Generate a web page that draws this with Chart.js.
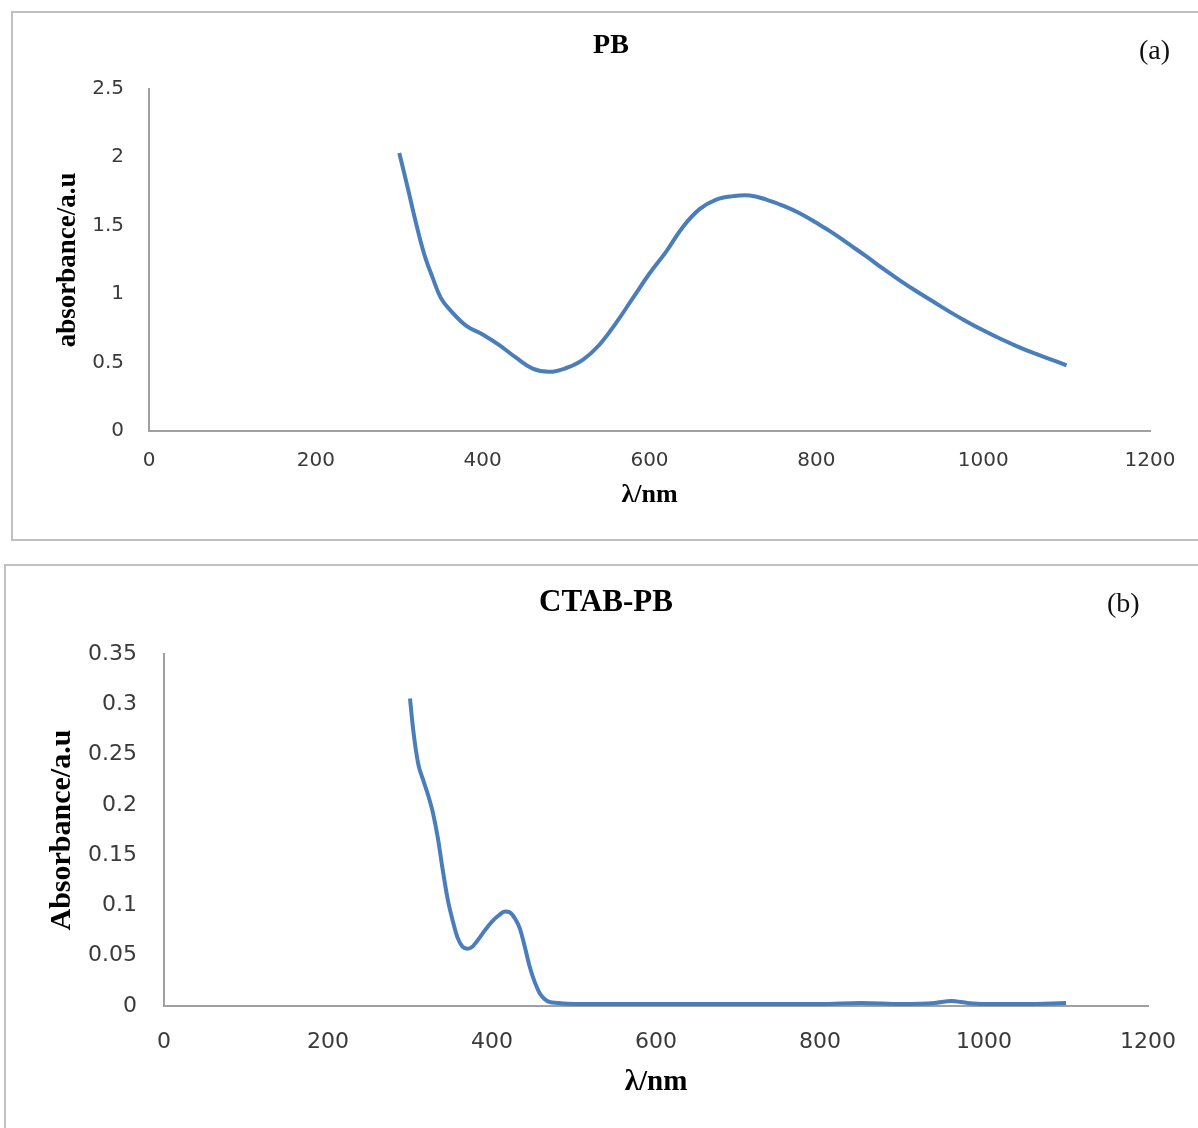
<!DOCTYPE html>
<html>
<head>
<meta charset="utf-8">
<script src="https://cdn.jsdelivr.net/npm/chart.js@4.4.0/dist/chart.umd.min.js"></script>
<style>
    html, body { margin: 0; padding: 0; background: #fff; overflow: hidden; }
    body { width: 1198px; height: 1128px; position: relative; }
    .panel { position: absolute; border: 2px solid #c0c0c0; box-sizing: border-box; }
    #panelA { left: 11px; top: 11px; width: 1230px; height: 530px; }
    #panelB { left: 4px; top: 564px; width: 1230px; height: 600px; }
    canvas { position: absolute; }
    #pbChart { left: 24px; top: 12px; }
    #ctabChart { left: 14px; top: 565px; }
    .tag { position: absolute; font-family: 'Liberation Serif', serif; font-size: 28px; line-height: 30px; color: #111; }
</style>
</head>
<body>
<div class="panel" id="panelA"></div>
<div class="panel" id="panelB"></div>
<canvas id="pbChart" width="1174" height="528"></canvas>
<canvas id="ctabChart" width="1184" height="563"></canvas>
<div class="tag" style="left:1139px; top:35px;">(a)</div>
<div class="tag" style="left:1107px; top:588px;">(b)</div>

<script>
// (a) PB spectrum
var pbWavelength = [300, 310, 320, 330, 340, 350, 360, 380, 400, 420, 440, 460, 480, 500,
    520, 540, 560, 580, 600, 620, 640, 660, 680, 700, 720, 740, 760, 780, 800, 820, 840,
    860, 880, 900, 920, 940, 960, 980, 1000, 1020, 1040, 1060, 1080, 1100];
var pbAbsorbance = [2.03, 1.78, 1.52, 1.29, 1.12, 0.97, 0.89, 0.77, 0.705, 0.627, 0.535, 0.455, 0.432, 0.46,
    0.52, 0.63, 0.79, 0.97, 1.15, 1.31, 1.49, 1.62, 1.69, 1.715, 1.72, 1.69, 1.645, 1.59, 1.52, 1.445, 1.36,
    1.275, 1.185, 1.10, 1.02, 0.945, 0.87, 0.80, 0.735, 0.675, 0.62, 0.57, 0.525, 0.48];
var pbYTicks = [0, 0.5, 1, 1.5, 2, 2.5];

// (b) CTAB-PB spectrum
var ctabWavelength = [300, 304, 310, 316, 322, 328, 334, 340, 346, 352, 358, 364, 370, 376, 384,
    392, 400, 408, 416, 422, 428, 434, 440, 446, 452, 458, 464, 470, 480, 500, 550, 600, 650,
    700, 750, 800, 850, 900, 940, 960, 980, 1000, 1050, 1100];
var ctabAbsorbance = [0.306, 0.274, 0.241, 0.225, 0.21, 0.192, 0.167, 0.135, 0.106, 0.085, 0.068, 0.059, 0.057, 0.059, 0.067,
    0.076, 0.084, 0.09, 0.094, 0.093, 0.087, 0.077, 0.059, 0.039, 0.024, 0.013, 0.007, 0.004, 0.003, 0.002, 0.002, 0.002, 0.002,
    0.002, 0.002, 0.002, 0.003, 0.002, 0.003, 0.005, 0.003, 0.002, 0.002, 0.003];
var ctabYTicks = [0, 0.05, 0.1, 0.15, 0.2, 0.25, 0.3, 0.35];

var xTicks = [0, 200, 400, 600, 800, 1000, 1200];

var lineBlue = 'rgb(74, 126, 187)';
var axisGrey = '#a0a0a0';
var tickGrey = '#3a3a3a';

var toPoints = function (xs, ys) {
    var pts = [];
    for (var i = 0; i < xs.length; i++) {
        pts.push({ x: xs[i], y: ys[i] });
    }
    return pts;
};

var spectrumChart = function (id, s) {
    var config = {
        type: 'line',
        data: {
            datasets: [{
                data: toPoints(s.xs, s.ys),
                borderColor: lineBlue,
                borderWidth: 4,
                pointRadius: 0,
                tension: 0.4,
                cubicInterpolationMode: s.interp,
                fill: false
            }]
        },
        options: {
            responsive: false,
            animation: false,
            events: [],
            layout: { padding: 0 },
            plugins: {
                legend: { display: false },
                tooltip: { enabled: false },
                title: {
                    display: true,
                    text: s.title,
                    color: '#000',
                    font: { family: 'Liberation Serif', size: s.titleSize, weight: 'bold' },
                    padding: { top: s.titleTop, bottom: s.titleBottom }
                }
            },
            scales: {
                x: {
                    type: 'linear',
                    min: xTicks[0],
                    max: xTicks[xTicks.length - 1],
                    grid: { display: false, drawTicks: false },
                    border: { display: true, color: axisGrey, width: 2 },
                    ticks: {
                        color: tickGrey,
                        padding: s.xTickPad,
                        maxRotation: 0,
                        font: { family: 'DejaVu Sans', size: s.tickSize },
                        callback: function (v) { return String(v); }
                    },
                    afterBuildTicks: function (scale) {
                        scale.ticks = xTicks.map(function (v) { return { value: v }; });
                    },
                    title: {
                        display: true,
                        text: 'λ/nm',
                        color: '#000',
                        font: { family: 'Liberation Serif', size: s.xTitleSize, weight: 'bold' },
                        padding: { top: 0, bottom: s.xTitlePad }
                    },
                    afterFit: function (scale) {
                        scale.height = s.xHeight;
                        scale.paddingLeft = 0;
                        scale.paddingRight = s.rightGap;
                    }
                },
                y: {
                    type: 'linear',
                    min: s.yTicks[0],
                    max: s.yTicks[s.yTicks.length - 1],
                    grid: { display: false, drawTicks: false },
                    border: { display: true, color: axisGrey, width: 2 },
                    ticks: {
                        color: tickGrey,
                        padding: s.yTickPad,
                        font: { family: 'DejaVu Sans', size: s.tickSize },
                        callback: function (v) { return String(+v.toFixed(2)); }
                    },
                    afterBuildTicks: function (scale) {
                        scale.ticks = s.yTicks.map(function (v) { return { value: v }; });
                    },
                    title: {
                        display: true,
                        text: s.yTitle,
                        color: '#000',
                        font: { family: 'Liberation Serif', size: s.yTitleSize, weight: 'bold' },
                        padding: { top: s.yTitlePad, bottom: 0 }
                    },
                    afterFit: function (scale) {
                        scale.width = s.yWidth;
                    }
                }
            }
        }
    };

    return new Chart(document.getElementById(id), config);
};

spectrumChart('pbChart', {
    xs: pbWavelength, ys: pbAbsorbance, yTicks: pbYTicks, interp: 'default',
    title: 'PB', titleSize: 28, titleTop: 17, titleBottom: 26,
    yTitle: 'absorbance/a.u', yTitleSize: 27, yTitlePad: 28,
    xTitleSize: 26, xTitlePad: 29,
    tickSize: 20, xTickPad: 18, yTickPad: 25,
    yWidth: 125, rightGap: 48, xHeight: 109
});

spectrumChart('ctabChart', {
    xs: ctabWavelength, ys: ctabAbsorbance, yTicks: ctabYTicks, interp: 'monotone',
    title: 'CTAB-PB', titleSize: 31, titleTop: 19, titleBottom: 33,
    yTitle: 'Absorbance/a.u', yTitleSize: 30, yTitlePad: 30,
    xTitleSize: 29, xTitlePad: 28,
    tickSize: 22, xTickPad: 23, yTickPad: 27,
    yWidth: 150, rightGap: 50, xHeight: 122
});
</script>
</body>
</html>
